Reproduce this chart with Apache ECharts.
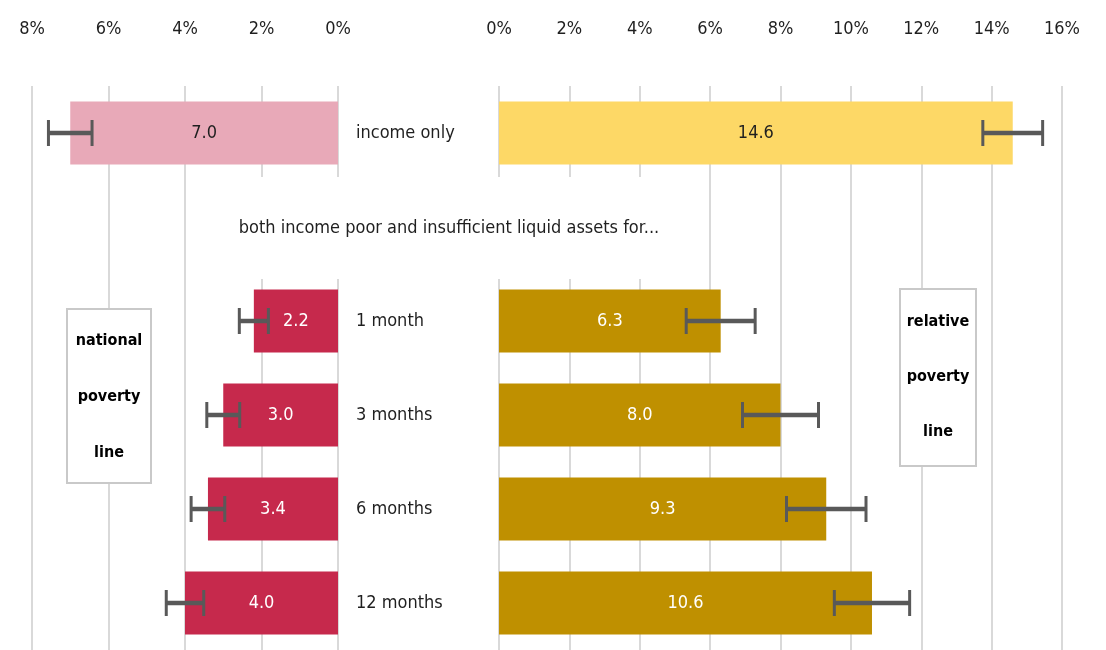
<!DOCTYPE html>
<html>
<head>
<meta charset="utf-8">
<script src="https://cdn.jsdelivr.net/npm/echarts@6/dist/echarts.min.js"></script>
<style>
html,body{margin:0;padding:0;background:#fff;}
#chart{width:1106px;height:650px;}
</style>
</head>
<body>
<div id="chart"></div>
<script>
// ---- data ----
var categories = ['income only', 'header', '1 month', '3 months', '6 months', '12 months'];
var headerText = 'both income poor and insufficient liquid assets for...';
var nationalValues = [7.0, null, 2.2, 3.0, 3.4, 4.0];
var nationalErr = [0.57, null, 0.38, 0.43, 0.44, 0.49];
var relativeValues = [14.6, null, 6.3, 8.0, 9.3, 10.6];
var relativeErr = [0.85, null, 0.98, 1.08, 1.13, 1.07];
var leftTicks = { min: 0, max: 8, interval: 2 };
var rightTicks = { min: 0, max: 16, interval: 2 };
var nationalLabel = 'national\npoverty\nline';
var relativeLabel = 'relative\npoverty\nline';

// ---- styles ----
var FONT = '"DejaVu Sans Condensed", "Liberation Sans Narrow", "Liberation Sans", sans-serif';
var FS = 18;
var FSB = 16;
var TXT = '#1f1f1f';
var GRIDC = '#d9d9d9';
var ERRC = '#595959';

var chart = echarts.init(document.getElementById('chart'), null, { renderer: 'canvas' });

function errData(vals, errs) {
  return vals.map(function (v, i) {
    if (v == null) return [i, '-', '-'];
    return [i, v - errs[i], v + errs[i]];
  });
}

function renderErr(params, api) {
  var lo = api.value(1), hi = api.value(2);
  if (isNaN(lo) || isNaN(hi)) return;
  var cat = api.value(0);
  var p1 = api.coord([lo, cat]);
  var p2 = api.coord([hi, cat]);
  var h = 26;
  var st = { stroke: ERRC, lineWidth: 4.5 };
  var capSt = { stroke: ERRC, lineWidth: 3 };
  return {
    type: 'group',
    children: [
      { type: 'line', shape: { x1: p1[0], y1: p1[1], x2: p2[0], y2: p2[1] }, style: st },
      { type: 'line', shape: { x1: p1[0], y1: p1[1] - h / 2, x2: p1[0], y2: p1[1] + h / 2 }, style: capSt },
      { type: 'line', shape: { x1: p2[0], y1: p2[1] - h / 2, x2: p2[0], y2: p2[1] + h / 2 }, style: capSt }
    ]
  };
}

var axisLabelStyle = { fontFamily: FONT, fontSize: FS, color: TXT };

var option = {
  animation: false,
  backgroundColor: '#ffffff',
  textStyle: { fontFamily: FONT },
  grid: [
    { left: 32, width: 306, top: 86, bottom: 0, containLabel: false },
    { left: 499, width: 563, top: 86, bottom: 0, containLabel: false }
  ],
  xAxis: [
    {
      type: 'value', gridIndex: 0, inverse: true, position: 'top',
      min: leftTicks.min, max: leftTicks.max, interval: leftTicks.interval,
      axisLine: { show: false }, axisTick: { show: false },
      splitLine: { show: true, lineStyle: { color: GRIDC, width: 2 } },
      axisLabel: Object.assign({ margin: 48, formatter: '{value}%' }, axisLabelStyle)
    },
    {
      type: 'value', gridIndex: 1, position: 'top',
      min: rightTicks.min, max: rightTicks.max, interval: rightTicks.interval,
      axisLine: { show: false }, axisTick: { show: false },
      splitLine: { show: true, lineStyle: { color: GRIDC, width: 2 } },
      axisLabel: Object.assign({ margin: 48, formatter: '{value}%' }, axisLabelStyle)
    }
  ],
  yAxis: [
    {
      type: 'category', gridIndex: 0, data: categories, inverse: true, position: 'right',
      axisLine: { show: false }, axisTick: { show: false },
      axisLabel: Object.assign({
        margin: 18, align: 'left',
        formatter: function (v) { return v === 'header' ? '' : v; }
      }, axisLabelStyle)
    },
    {
      type: 'category', gridIndex: 1, data: categories, inverse: true,
      show: false
    }
  ],
  graphic: [
    {
      type: 'text', z: 100, x: 449, y: 228,
      style: {
        text: headerText, fontFamily: FONT, fontSize: FS, fill: TXT,
        align: 'center', verticalAlign: 'middle',
        backgroundColor: '#ffffff', padding: [42, 4, 42, 4]
      }
    },
    {
      type: 'rect', z: 100, shape: { x: 67, y: 309, width: 84, height: 174 },
      style: { fill: '#ffffff', stroke: '#c9c9c9', lineWidth: 2 }
    },
    {
      type: 'text', z: 101, x: 109, y: 397,
      style: { text: nationalLabel, fontFamily: FONT, fontSize: FSB, fontWeight: 'bold', fill: '#000',
               align: 'center', verticalAlign: 'middle', lineHeight: 56 }
    },
    {
      type: 'rect', z: 100, shape: { x: 900, y: 289, width: 76, height: 177 },
      style: { fill: '#ffffff', stroke: '#c9c9c9', lineWidth: 2 }
    },
    {
      type: 'text', z: 101, x: 938, y: 377,
      style: { text: relativeLabel, fontFamily: FONT, fontSize: FSB, fontWeight: 'bold', fill: '#000',
               align: 'center', verticalAlign: 'middle', lineHeight: 55 }
    }
  ],
  series: [
    {
      type: 'bar', xAxisIndex: 0, yAxisIndex: 0,
      barWidth: 63,
      itemStyle: {
        color: function (p) { return p.dataIndex === 0 ? '#E8A9B8' : '#C6294C'; }
      },
      label: {
        show: true, position: 'inside', fontFamily: FONT, fontSize: FS,
        formatter: function (p) { return p.value == null ? '' : Number(p.value).toFixed(1); },
        color: '#ffffff'
      }
    },
    {
      type: 'bar', xAxisIndex: 1, yAxisIndex: 1,
      barWidth: 63,
      itemStyle: {
        color: function (p) { return p.dataIndex === 0 ? '#FDD866' : '#BF9000'; }
      },
      label: {
        show: true, position: 'inside', fontFamily: FONT, fontSize: FS,
        formatter: function (p) { return p.value == null ? '' : Number(p.value).toFixed(1); },
        color: '#ffffff'
      }
    },
    {
      type: 'custom', xAxisIndex: 0, yAxisIndex: 0, z: 5,
      renderItem: renderErr, encode: { x: [1, 2], y: 0 },
      data: errData(nationalValues, nationalErr)
    },
    {
      type: 'custom', xAxisIndex: 1, yAxisIndex: 1, z: 5,
      renderItem: renderErr, encode: { x: [1, 2], y: 0 },
      data: errData(relativeValues, relativeErr)
    }
  ]
};

// dark label text on the light "income only" bars
option.series[0].data = nationalValues.map(function (v, i) {
  return i === 0 ? { value: v, label: { color: TXT } } : v;
});
option.series[1].data = relativeValues.map(function (v, i) {
  return i === 0 ? { value: v, label: { color: TXT } } : v;
});

chart.setOption(option);
</script>
</body>
</html>
